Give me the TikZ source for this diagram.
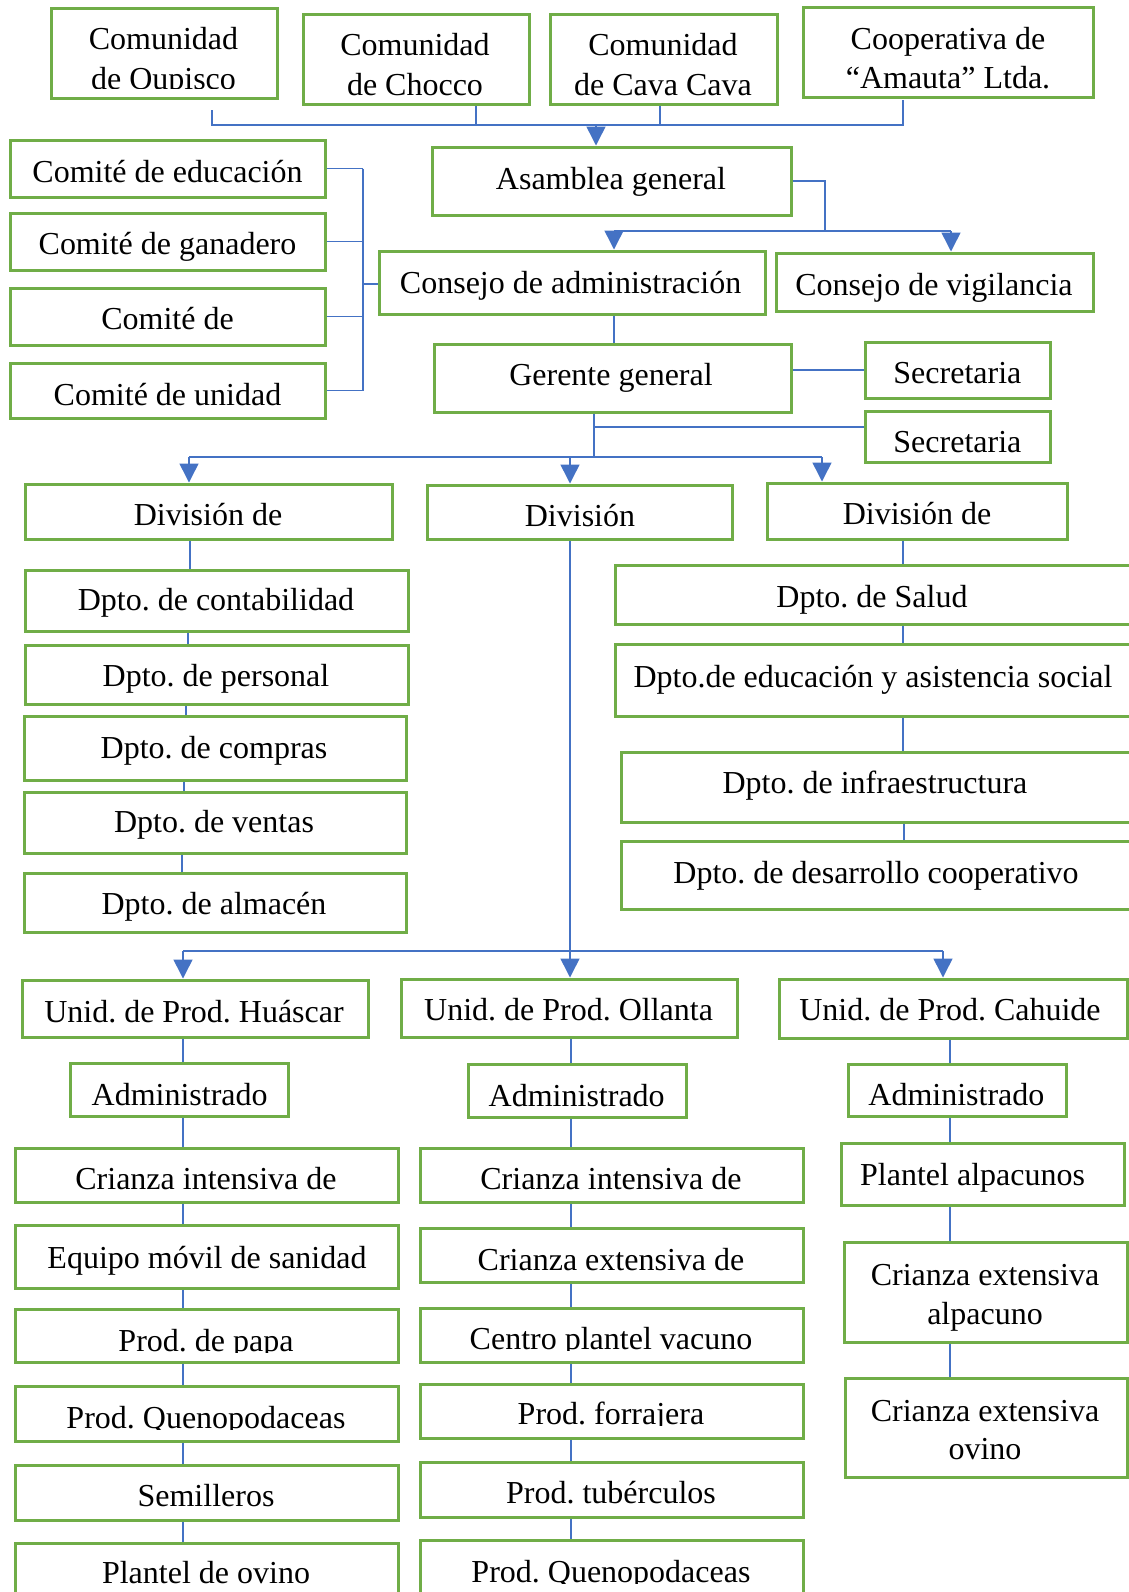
\documentclass[tikz,border=0pt]{standalone}
\usepackage{fontspec}
\setmainfont{Liberation Serif}
\usetikzlibrary{arrows.meta}
\definecolor{gbox}{HTML}{70AD47}
\definecolor{bline}{HTML}{4472C4}
\frenchspacing
\tikzset{
 box/.style={draw=gbox, line width=1.5pt, inner sep=0pt, rectangle},
 txt/.style={inner sep=0pt, anchor=base, font=\fontsize{16}{20}\selectfont\frenchspacing},
 ln/.style={draw=bline, line width=0.75pt},
 arr/.style={ln, -{Triangle[width=9.5pt,length=9.5pt]}},
}
\newcommand\bx[5]{%
 \pgfmathsetmacro\bxw{(#4-#2)*0.5}%
 \pgfmathsetmacro\bxh{(#5-#3)*0.5}%
 \node[box,minimum width=\bxw pt,minimum height=\bxh pt] (#1) at ({(#2+#4)/2},{(#3+#5)/2}) {};}
\newcommand\tx[4]{\node[txt] (#1) at (#2,{#3+11}) {#4};}
\newcommand\ctx[5]{\begin{scope}\clip (0,0) rectangle (1129,{#5+2});\node[txt] (#1) at (#2,{#3+11}) {#4};\end{scope}}
\begin{document}
\begin{tikzpicture}[x=0.5pt,y=-0.5pt]
\useasboundingbox (0,0) rectangle (1129,1592);
\fill[white] (0,0) rectangle (1129,1592);
% ---------- boxes ----------
\bx{oup}{51}{8}{277}{98}
\bx{cho}{303}{14}{529}{104}
\bx{cav}{550}{14}{777}{104}
\bx{coo}{803}{7}{1093}{97}
\bx{asm}{432}{147}{791}{215}
\bx{adm}{379}{251}{765}{314}
\bx{vig}{776}{253}{1093}{311}
\bx{ce1}{10}{140}{325}{197}
\bx{ce2}{10}{213}{325}{270}
\bx{ce3}{10}{288}{325}{345}
\bx{ce4}{10}{363}{325}{418}
\bx{ger}{434}{344}{791}{412}
\bx{se1}{865}{342}{1050}{398}
\bx{se2}{865}{411}{1050}{462}
\bx{dv1}{25}{484}{392}{539}
\bx{dv2}{427}{485}{732}{539}
\bx{dv3}{767}{483}{1067}{539}
\bx{dl1}{25}{570}{408}{631}
\bx{dl2}{25}{645}{408}{704}
\bx{dl3}{24}{716}{406}{780}
\bx{dl4}{24}{792}{406}{853}
\bx{dl5}{24}{873}{406}{932}
\bx{dr1}{615}{565}{1133}{624}
\bx{dr2}{615}{644}{1133}{716}
\bx{dr3}{621}{752}{1133}{822}
\bx{dr4}{621}{841}{1133}{909}
\bx{u1}{22}{980}{368}{1037}
\bx{u2}{401}{979}{737}{1037}
\bx{u3}{779}{979}{1127}{1038}
\bx{a1}{70}{1063}{288}{1116}
\bx{a2}{468}{1064}{686}{1117}
\bx{a3}{848}{1064}{1066}{1116}
\bx{l1}{15}{1148}{398}{1202}
\bx{l2}{15}{1225}{398}{1288}
\bx{l3}{15}{1309}{398}{1362}
\bx{l4}{15}{1386}{398}{1441}
\bx{l5}{15}{1465}{398}{1520}
\bx{l6}{15}{1543}{398}{1605}
\bx{m1}{420}{1148}{803}{1202}
\bx{m2}{420}{1228}{803}{1282}
\bx{m3}{420}{1308}{803}{1362}
\bx{m4}{420}{1384}{803}{1438}
\bx{m5}{420}{1462}{803}{1517}
\bx{m6}{420}{1540}{803}{1605}
\bx{r1}{841}{1143}{1124}{1205}
\bx{r2}{844}{1242}{1127}{1342}
\bx{r3}{845}{1378}{1127}{1477}
% ---------- texts ----------
\tx{toup1}{163.5}{38.6}{Comunidad}
\ctx{toup2}{163.5}{78.2}{de Oupisco}{86.5}
\tx{tcho1}{415}{44.7}{Comunidad}
\tx{tcho2}{415}{84.3}{de Chocco}
\tx{tcav1}{663}{44.7}{Comunidad}
\tx{tcav2}{663}{84.3}{de Cava Cava}
\tx{tcoo1}{948}{38.6}{Cooperativa de}
\tx{tcoo2}{948}{77.2}{“Amauta” Ltda.}
\tx{tasm}{611}{178.7}{Asamblea general}
\tx{tadm}{570.6}{282.3}{Consejo de administración}
\tx{tvig}{934}{284.3}{Consejo de vigilancia}
\tx{tce1}{167.5}{171.6}{Comité de educación}
\tx{tce2}{167.5}{243.7}{Comité de ganadero}
\tx{tce3}{167.5}{318.8}{Comité de}
\tx{tce4}{167.5}{394}{Comité de unidad}
\tx{tger}{611}{374.6}{Gerente general}
\tx{tse1}{957.4}{372.6}{Secretaria}
\tx{tse2}{957.4}{441.7}{Secretaria}
\tx{tdv1}{208}{514.8}{División de}
\tx{tdv2}{580}{515.8}{División}
\tx{tdv3}{917}{513.7}{División de}
\tx{tdl1}{216}{599}{Dpto. de contabilidad}
\tx{tdl2}{216}{675.2}{Dpto. de personal}
\tx{tdl3}{214}{747.3}{Dpto. de compras}
\tx{tdl4}{214}{821.4}{Dpto. de ventas}
\tx{tdl5}{214}{903.6}{Dpto. de almacén}
\tx{tdr1}{872}{596}{Dpto. de Salud}
\tx{tdr2}{873}{676.2}{Dpto.de educación y asistencia social}
\tx{tdr3}{875}{782.8}{Dpto. de infraestructura}
\tx{tdr4}{876}{872.1}{Dpto. de desarrollo cooperativo}
\tx{tu1}{194}{1011.2}{Unid. de Prod. Huáscar}
\tx{tu2}{568.6}{1009.2}{Unid. de Prod. Ollanta}
\tx{tu3}{950}{1009.2}{Unid. de Prod. Cahuide}
\tx{ta1}{179.7}{1094.5}{Administrado}
\tx{ta2}{576.7}{1095.5}{Administrado}
\tx{ta3}{956.4}{1094.5}{Administrado}
\tx{tl1}{206}{1178.8}{Crianza intensiva de}
\tx{tl2}{207}{1257}{Equipo móvil de sanidad}
\ctx{tl3}{206}{1340}{Prod. de papa}{1350}
\ctx{tl4}{206}{1417.4}{Prod. Quenopodaceas}{1427}
\tx{tl5}{206}{1495.5}{Semilleros}
\tx{tl6}{206}{1572.7}{Plantel de ovino}
\tx{tm1}{611}{1178.8}{Crianza intensiva de}
\tx{tm2}{611}{1259}{Crianza extensiva de}
\ctx{tm3}{611}{1338}{Centro plantel vacuno}{1348}
\ctx{tm4}{611}{1413}{Prod. forrajera}{1423}
\tx{tm5}{611}{1492.5}{Prod. tubérculos}
\ctx{tm6}{611}{1571.7}{Prod. Quenopodaceas}{1581}
\tx{tr1}{972.6}{1174.7}{Plantel alpacunos}
\tx{tr2a}{985}{1274.2}{Crianza extensiva}
\tx{tr2b}{985}{1313.8}{alpacuno}
\tx{tr3a}{985}{1410.3}{Crianza extensiva}
\tx{tr3b}{985}{1448.9}{ovino}
% ---------- connectors ----------
% communities -> asamblea
\coordinate (s1) at (212,110);
\coordinate (s4) at (903,100);
\coordinate (bA) at (596,125);
\draw[ln] (s1) |- (s4 |- bA) -- (s4);
\draw[ln] (cho.south -| 476,0) -- (476,125);
\draw[ln] (cav.south -| 660,0) -- (660,125);
\draw[arr] (bA) -- (asm.north -| bA);
% asamblea -> consejos
\coordinate (bB) at (825,231);
\draw[ln] (asm.east) -| (bB);
\draw[ln] (614,231) -- (951,231);
\draw[arr] (614,231) -- (adm.north -| 614,0);
\draw[arr] (951,231) -- (vig.north -| 951,0);
% comites
\coordinate (cb) at (363,284);
\draw[ln] (ce1.east) -- (ce1.east -| cb);
\draw[ln] (ce2.east) -- (ce2.east -| cb);
\draw[ln] (ce3.east) -- (ce3.east -| cb);
\draw[ln] (ce4.east) -- (ce4.east -| cb);
\draw[ln] (ce1.east -| cb) -- (ce4.east -| cb);
\draw[ln] (cb) -- (adm.west |- cb);
% adm -> gerente
\draw[ln] (adm.south -| 614,0) -- (ger.north -| 614,0);
% gerente -> secretarias
\draw[ln] (se1.west) -- (se1.west -| ger.east);
\coordinate (gd) at (594,457);
\draw[ln] (ger.south -| gd) -- (gd);
\draw[ln] (594,427) -- (se2.west |- 0,427);
% divisions
\draw[ln] (189,457) -- (822,457);
\draw[arr] (189,457) -- (dv1.north -| 189,0);
\draw[arr] (570,457) -- (dv2.north -| 570,0);
\draw[arr] (822,457) -- (dv3.north -| 822,0);
% left departments
\draw[ln] (dv1.south -| 190,0) -- (dl1.north -| 190,0);
\draw[ln] (dl1.south -| 188,0) -- (dl2.north -| 188,0);
\draw[ln] (dl2.south -| 186,0) -- (dl3.north -| 186,0);
\draw[ln] (dl3.south -| 184,0) -- (dl4.north -| 184,0);
\draw[ln] (dl4.south -| 182,0) -- (dl5.north -| 182,0);
% right departments
\draw[ln] (dv3.south -| 903,0) -- (dr1.north -| 903,0);
\draw[ln] (dr1.south -| 903,0) -- (dr2.north -| 903,0);
\draw[ln] (dr2.south -| 903,0) -- (dr3.north -| 903,0);
\draw[ln] (dr3.south -| 904,0) -- (dr4.north -| 904,0);
% production units
\draw[arr] (dv2.south -| 570,0) -- (u2.north -| 570,0);
\draw[ln] (183,951) -- (943,951);
\draw[arr] (183,951) -- (u1.north -| 183,0);
\draw[arr] (943,951) -- (u3.north -| 943,0);
% left column
\draw[ln] (u1.south -| 183,0) -- (a1.north -| 183,0);
\draw[ln] (a1.south -| 183,0) -- (l1.north -| 183,0);
\draw[ln] (l1.south -| 183,0) -- (l2.north -| 183,0);
\draw[ln] (l2.south -| 183,0) -- (l3.north -| 183,0);
\draw[ln] (l3.south -| 183,0) -- (l4.north -| 183,0);
\draw[ln] (l4.south -| 183,0) -- (l5.north -| 183,0);
\draw[ln] (l5.south -| 183,0) -- (l6.north -| 183,0);
% middle column
\draw[ln] (u2.south -| 571,0) -- (a2.north -| 571,0);
\draw[ln] (a2.south -| 571,0) -- (m1.north -| 571,0);
\draw[ln] (m1.south -| 571,0) -- (m2.north -| 571,0);
\draw[ln] (m2.south -| 571,0) -- (m3.north -| 571,0);
\draw[ln] (m3.south -| 571,0) -- (m4.north -| 571,0);
\draw[ln] (m4.south -| 571,0) -- (m5.north -| 571,0);
\draw[ln] (m5.south -| 571,0) -- (m6.north -| 571,0);
% right column
\draw[ln] (u3.south -| 950,0) -- (a3.north -| 950,0);
\draw[ln] (a3.south -| 950,0) -- (r1.north -| 950,0);
\draw[ln] (r1.south -| 950,0) -- (r2.north -| 950,0);
\draw[ln] (r2.south -| 950,0) -- (r3.north -| 950,0);
\end{tikzpicture}
\end{document}
